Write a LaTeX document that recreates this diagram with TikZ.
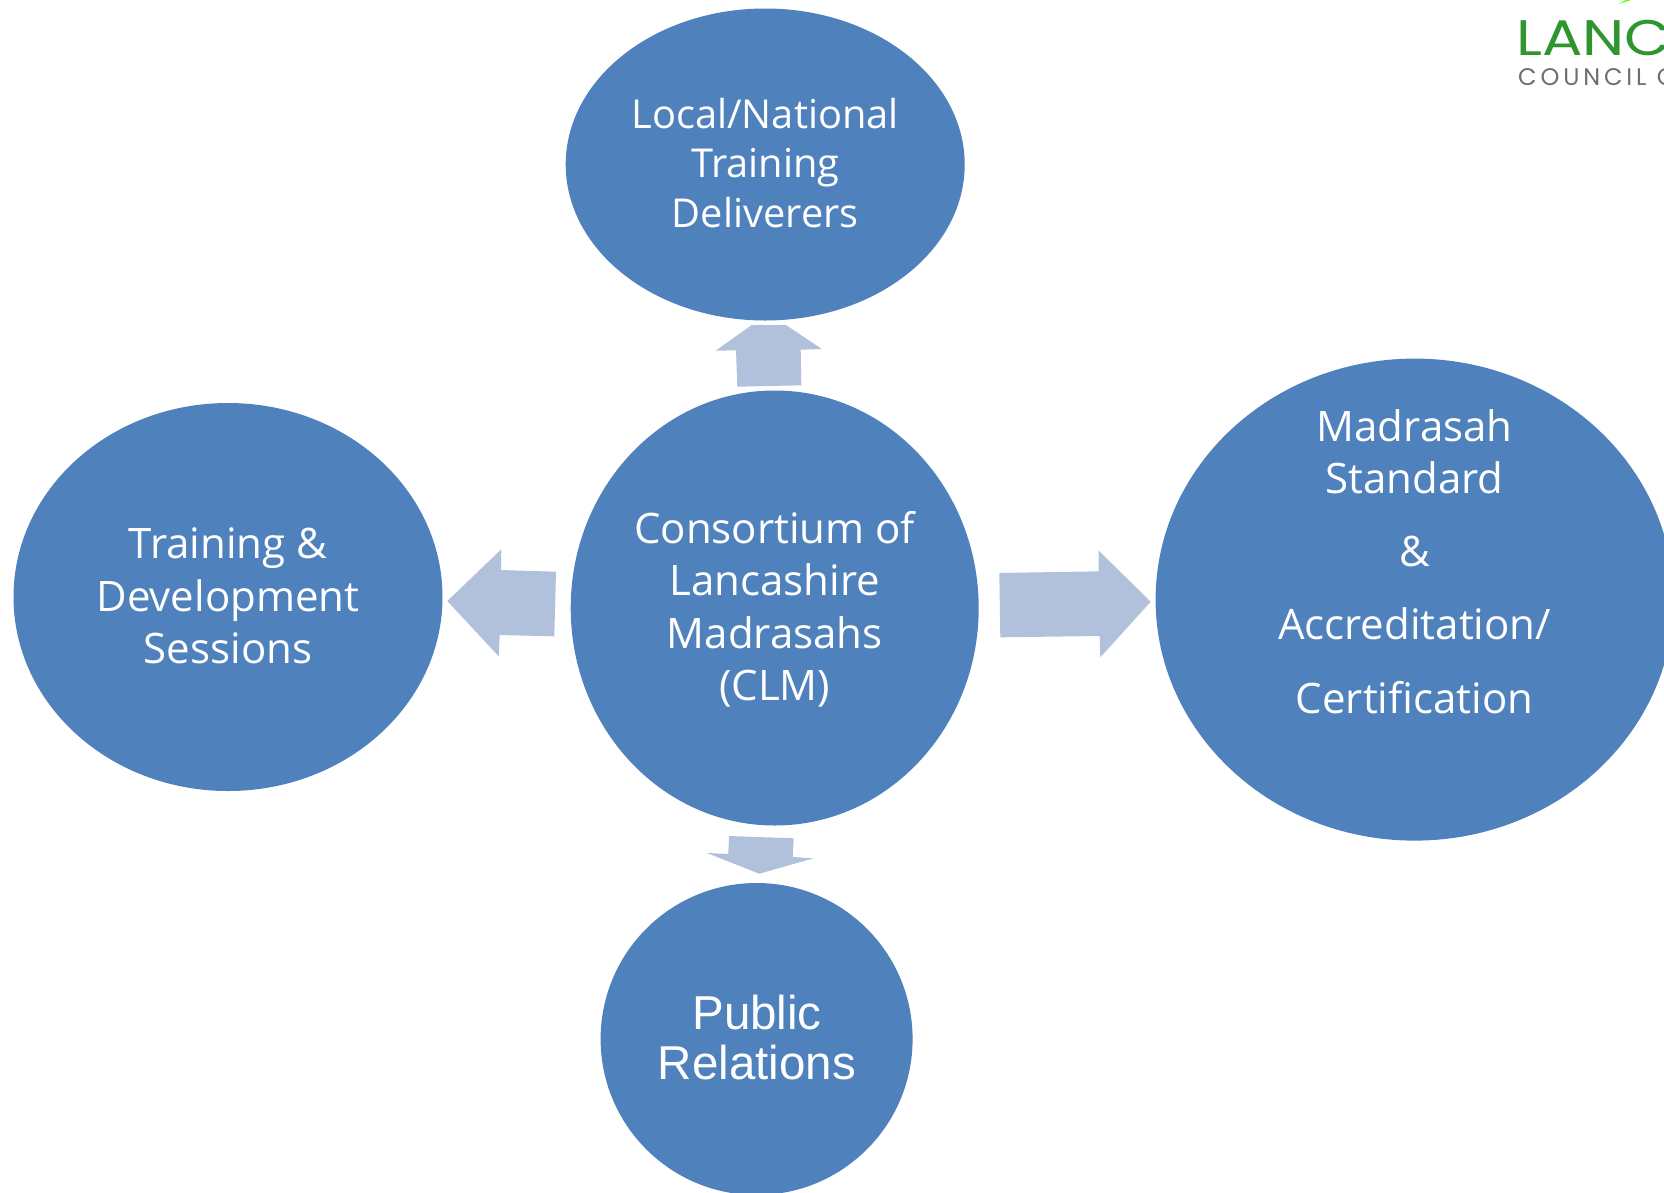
\documentclass[tikz,border=0pt]{standalone}
\usepackage{fontspec}
\setmainfont{Open Sans}
\newfontfamily\arialfont{Liberation Sans}
\newfontfamily\logofont[FakeStretch=1.2]{Poppins}
\newfontfamily\logosubfont[LetterSpace=16]{Poppins}
\usetikzlibrary{shapes.geometric}
\definecolor{ovalblue}{HTML}{4F81BD}
\definecolor{arrowblue}{HTML}{B2C1DB}
\definecolor{logogreen}{HTML}{2F962F}
\definecolor{logogrey}{HTML}{6E6E6E}
\tikzset{
  oval/.style={ellipse,fill=ovalblue,draw=none,inner sep=0pt,outer sep=0pt},
  ovaltext/.style={text=white,align=center,font=\fontsize{42}{52.5}\selectfont,inner sep=0pt},
  blockarrow/.style={fill=arrowblue,draw=none},
}
\begin{document}
\begin{tikzpicture}[x=1pt,y=-1pt]
\clip (0,0) rectangle (1664,1192);
\fill[white] (0,0) rectangle (1664,1192);
% ovals
\node[oval,minimum width=399pt,minimum height=312pt] (top) at (765.2,164.5) {};
\node[oval,minimum width=429pt,minimum height=388pt] (left) at (228,597) {};
\node[oval,minimum width=408pt,minimum height=435pt] (centre) at (774.7,608) {};
\node[oval,minimum width=518pt,minimum height=482pt] (right) at (1414.6,599.6) {};
\node[oval,minimum width=312pt,minimum height=312pt] (bottom) at (756.6,1039) {};
% texts
\node[ovaltext,font=\fontsize{39.8}{49.5}\selectfont] (toptext) at (765.2,163) {Local/National\\Training\\Deliverers};
\node[ovaltext] (lefttext) at (228,596) {Training \&\\Development\\Sessions};
\node[ovaltext] (centretext) at (774.7,609) {Consortium of\\Lancashire\\Madrasahs\\(CLM)};
\node[ovaltext] (righttext) at (1414.6,561.5) {Madrasah\\Standard\\[20pt]\&\\[21pt]Accreditation/\\[21pt]Certification};
\node[ovaltext,font=\fontsize{47.5}{50}\arialfont\selectfont] (bottomtext) at (757,1037.5) {Public\\Relations};
% block arrows
\fill[blockarrow] (751.7,325) -- (786,325) -- (821.7,349) -- (800.7,349.7) -- (801.3,385.3) -- (737.3,386.7) -- (736,350.3) -- (715.7,350.7) -- cycle;
\fill[blockarrow] (729,836) -- (793.7,838.3) -- (792.7,857) -- (813.3,858.3) -- (759.3,873.7) -- (707,853) -- (728.3,854) -- cycle;
\fill[blockarrow] (447.3,601) -- (501.3,549.3) -- (501,570) -- (556,571.7) -- (554.3,636.3) -- (499.7,635) -- (498.7,656.3) -- cycle;
\fill[blockarrow] (999.3,573) -- (1098.7,571.3) -- (1098.7,550.7) -- (1150.7,601.7) -- (1100.3,657.3) -- (1099.7,636) -- (1000.3,637.3) -- cycle;
% logo
\fill[green!70!yellow] (1618,4) -- (1626,0) -- (1631,0) -- cycle;
\node[anchor=base west,inner sep=0pt,text=logogreen,font=\fontsize{50}{50}\logofont\selectfont] (logotop) at (1516,55) {LANC};
\node[anchor=base west,inner sep=0pt,text=logogrey,font=\fontsize{24}{24}\logosubfont\selectfont] (logosub) at (1518,85) {COUNCIL C};
\end{tikzpicture}
\end{document}
